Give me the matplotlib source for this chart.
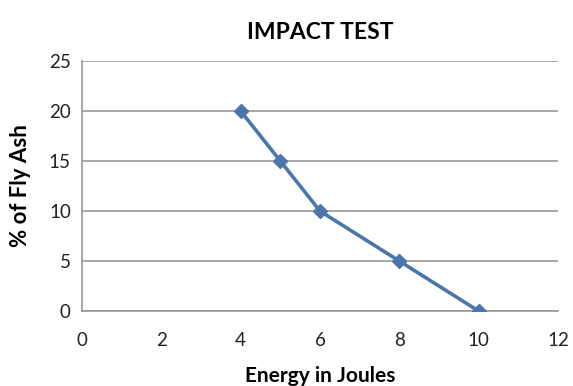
import matplotlib.pyplot as plt

# impact test results
energy = [4, 5, 6, 8, 10]
fly_ash = [20, 15, 10, 5, 0]

x_ticks = [0, 2, 4, 6, 8, 10, 12]
y_ticks = [0, 5, 10, 15, 20, 25]

plt.rcParams['font.family'] = ['Lato', 'DejaVu Sans']

fig = plt.figure(figsize=(5.73, 3.86), dpi=100)
ax = fig.add_axes([0.143, 0.194, 0.831, 0.648])

ax.plot(energy, fly_ash, color='#4a76aa', linewidth=2.6,
        marker='D', markersize=7, zorder=3)

ax.set_xlim(0, 12)
ax.set_ylim(0, 25)
ax.set_xticks(x_ticks)
ax.set_yticks(y_ticks)
ax.grid(axis='y', color='#999999', linewidth=1.2)
ax.set_axisbelow(True)

for side in ['top', 'right']:
    ax.spines[side].set_visible(False)
for side in ['left', 'bottom']:
    ax.spines[side].set_color('#999999')
    ax.spines[side].set_linewidth(1.2)

ax.tick_params(length=0, labelsize=13.5, colors='#222222', pad=8)
ax.tick_params(axis='x', pad=15)

ax.set_title('IMPACT TEST', fontsize=16.5, fontweight='bold', pad=16)
ax.set_xlabel('Energy in Joules', fontsize=15, fontweight='bold', labelpad=12)
ax.set_ylabel('% of Fly Ash', fontsize=16, fontweight='bold', labelpad=13)

fig.savefig('out.png', dpi=100)
